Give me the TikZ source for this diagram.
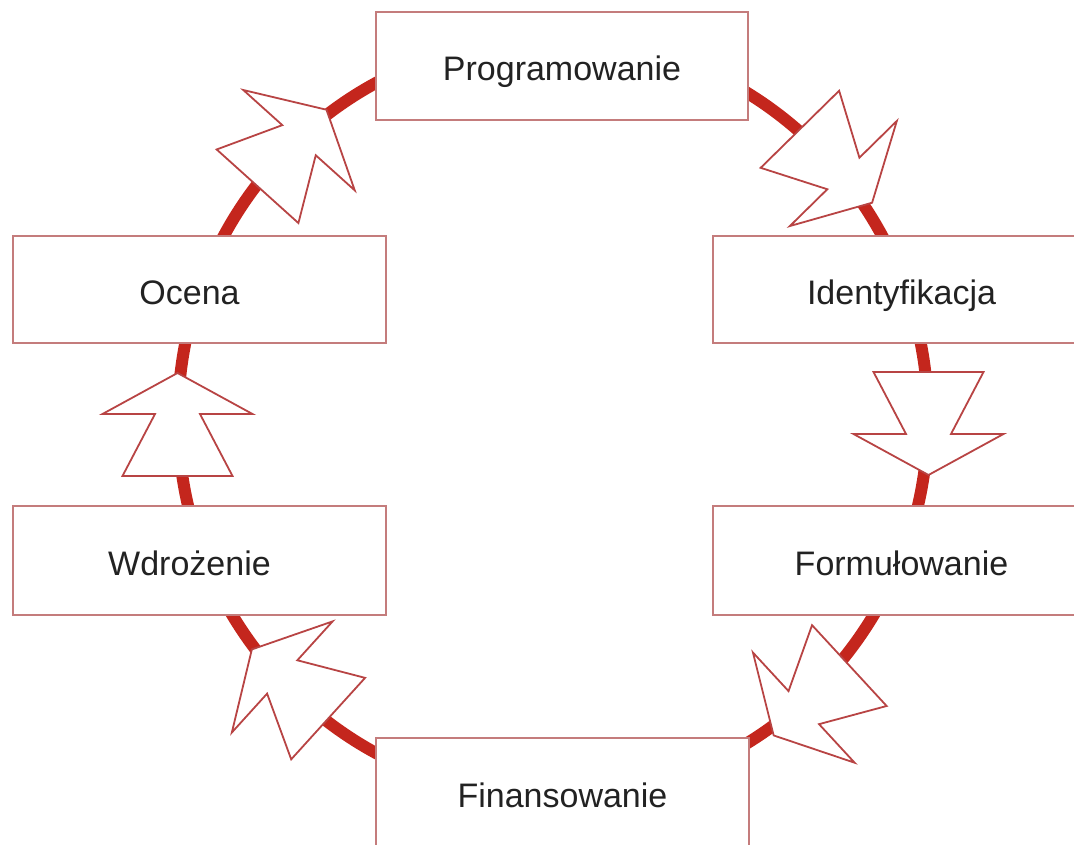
\documentclass[tikz,border=0pt]{standalone}
\usepackage{fontspec}
\setmainfont{Liberation Sans}
\usepackage{xcolor}
\definecolor{ringred}{HTML}{C4261D}
\definecolor{arrowred}{HTML}{B84444}
\definecolor{boxred}{HTML}{C47C7C}
\definecolor{textgray}{HTML}{222222}

\begin{document}
\begin{tikzpicture}[x=1pt, y=-1pt]
            \tikzstyle{ring} = [draw=ringred, line width=12pt]
            \tikzstyle{stage} = [draw=boxred, line width=2pt, fill=white, text=textgray,
                font=\fontsize{34}{40}\selectfont, inner sep=0pt, text height=30pt, text depth=0pt]
            \tikzstyle{leftstage} = [stage, execute at begin node={\hspace*{-20pt}}]
            \tikzstyle{arrowline} = [draw=arrowred, line width=1.8pt, fill=white, line join=miter]
            \tikzset{cyclearrow/.pic={
                \draw[arrowline] (-51.5, 55) -- (10.5, 22.5) -- (10.5, 75) -- (51.5, 0)
                    -- (10.5, -75) -- (10.5, -22.5) -- (-51.5, -55) -- cycle;
            }}
            \useasboundingbox (0, 0) rectangle (1074, 845);
            \clip (0, 0) rectangle (1074, 845);
            \draw[ring] (553, 418) ellipse [x radius=375, y radius=380];
            \node[stage, minimum width=372pt, minimum height=108pt] (prog) at (562, 66) {Programowanie};
            \node[leftstage, minimum width=373pt, minimum height=107pt] (ocena) at (199.5, 289.5) {Ocena};
            \node[stage, minimum width=377pt, minimum height=107pt] (ident) at (901.5, 289.5) {Identyfikacja};
            \node[leftstage, minimum width=373pt, minimum height=109pt] (wdroz) at (199.5, 560.5) {Wdrożenie};
            \node[stage, minimum width=377pt, minimum height=109pt] (form) at (901.5, 560.5) {Formułowanie};
            \node[stage, minimum width=373pt, minimum height=108pt] (finans) at (562.5, 792) {Finansowanie};
            \pic (toident) [rotate=-45.5] at (836, 166) {cyclearrow};
            \pic (toform) [rotate=-90] at (928.5, 423.5) {cyclearrow};
            \pic (tofinans) [rotate=222.7] at (811.5, 700.5) {cyclearrow};
            \pic (towdroz) [rotate=137.8] at (290, 684) {cyclearrow};
            \pic (toocena) [rotate=90] at (177.5, 424.5) {cyclearrow};
            \pic (toprog) [rotate=48] at (292, 148) {cyclearrow};
        \end{tikzpicture}
\end{document}
